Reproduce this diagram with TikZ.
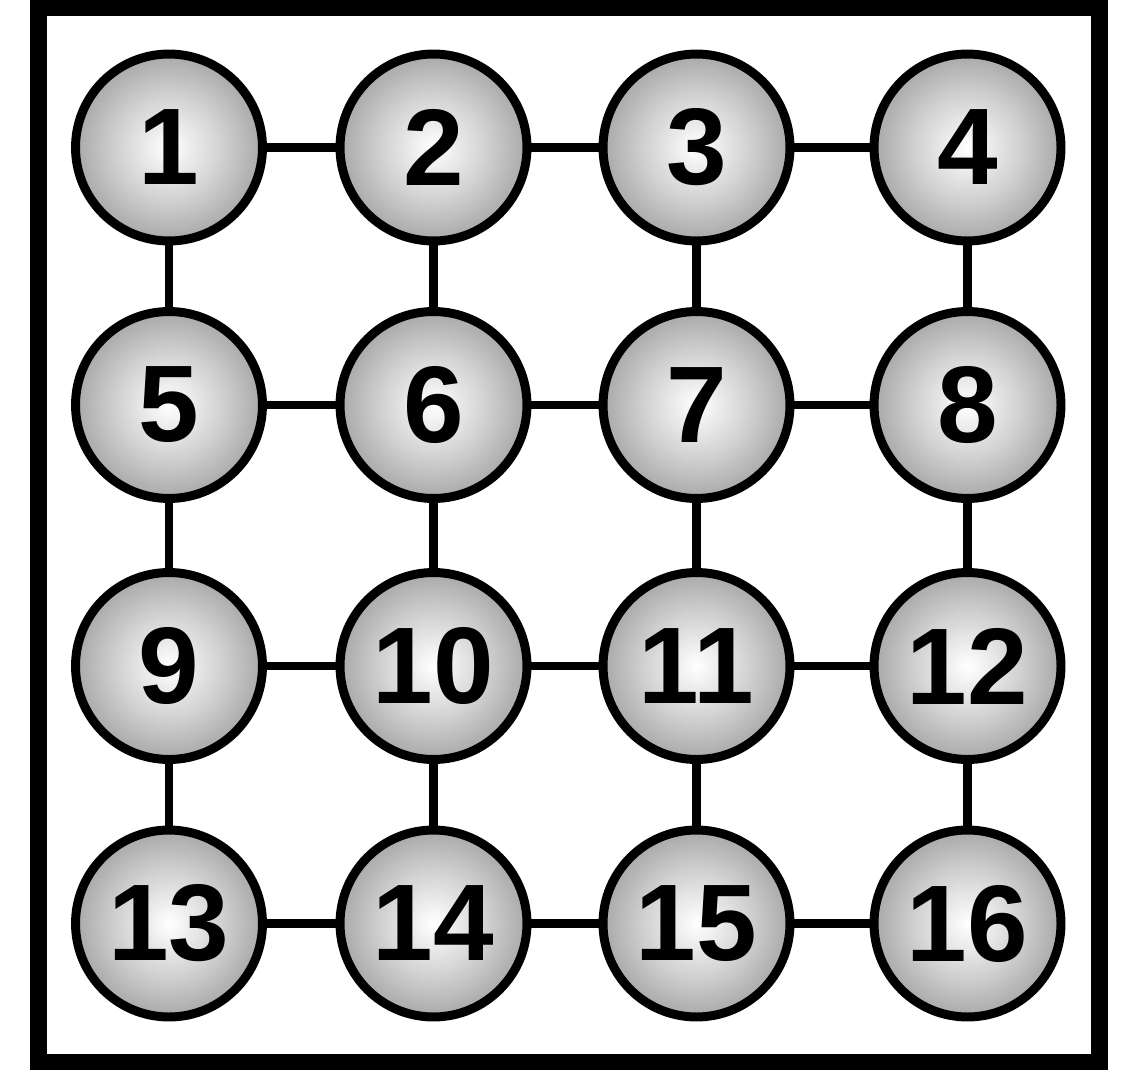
\documentclass[tikz,border=0pt]{standalone}
\usepackage{fontspec}
\setmainfont{Liberation Sans}
\usepackage{tikz}
\usetikzlibrary{positioning}

\pgfdeclareradialshading{ball}{\pgfpoint{0bp}{0bp}}{%
  color(0bp)=(white); color(4bp)=(white!95!black); color(14bp)=(black!18); color(25bp)=(black!34); color(50bp)=(black!38)}

\tikzset{
  cell/.style={circle, draw=black, line width=5.1pt, shading=ball,
               minimum size=3.74cm, inner sep=0pt,
               font=\fontsize{62}{62}\selectfont\bfseries},
  link/.style={line width=4.6pt},
  frame/.style={line width=9.6pt}
}

\begin{document}
\begin{tikzpicture}[x=0.02cm, y=-0.02cm]
      \useasboundingbox (0,0) rectangle (1132,1081);
      \draw[frame] (38.5,8) rectangle (1099.5,1062);

      % row 1
      \node[cell] (c1)  at (169,147.5)   {1};
      \node[cell] (c2)  at (433.5,147.5) {2};
      \node[cell] (c3)  at (696.5,147.5) {3};
      \node[cell] (c4)  at (967.5,147.5) {4};
      % row 2
      \node[cell] (c5)  at (169,405)   {5};
      \node[cell] (c6)  at (433.5,405) {6};
      \node[cell] (c7)  at (696.5,405) {7};
      \node[cell] (c8)  at (967.5,405) {8};
      % row 3
      \node[cell] (c9)  at (169,666)   {9};
      \node[cell] (c10) at (433.5,666) {10};
      \node[cell] (c11) at (696.5,666) {11};
      \node[cell] (c12) at (967.5,666) {12};
      % row 4
      \node[cell] (c13) at (169,923.5)   {13};
      \node[cell] (c14) at (433.5,923.5) {14};
      \node[cell] (c15) at (696.5,923.5) {15};
      \node[cell] (c16) at (967.5,923.5) {16};

      \draw[link] (c1) -- (c2) (c2) -- (c3) (c3) -- (c4)
                  (c5) -- (c6) (c6) -- (c7) (c7) -- (c8)
                  (c9) -- (c10) (c10) -- (c11) (c11) -- (c12)
                  (c13) -- (c14) (c14) -- (c15) (c15) -- (c16);
      \draw[link] (c1) -- (c5) (c5) -- (c9) (c9) -- (c13)
                  (c2) -- (c6) (c6) -- (c10) (c10) -- (c14)
                  (c3) -- (c7) (c7) -- (c11) (c11) -- (c15)
                  (c4) -- (c8) (c8) -- (c12) (c12) -- (c16);
    \end{tikzpicture}
\end{document}
